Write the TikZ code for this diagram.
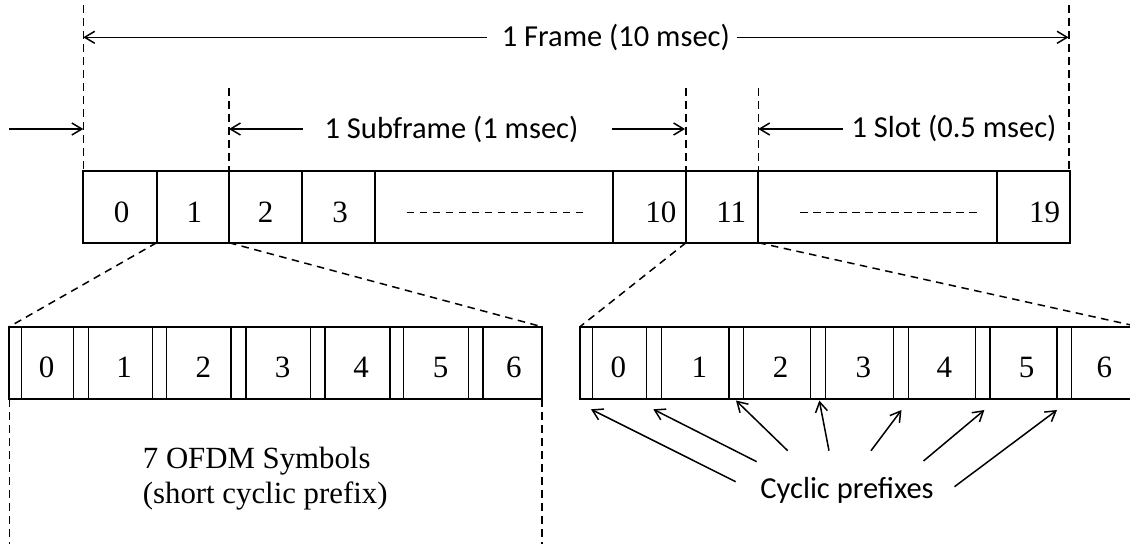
\documentclass[tikz,border=0pt]{standalone}
\usepackage{fontspec}
\setmainfont{Liberation Serif}
\newfontfamily\calfnt{Carlito}
\usetikzlibrary{arrows.meta}
\begin{document}
\begin{tikzpicture}[x=1pt,y=-1pt,
  box/.style={line width=1.8pt},
  cpl/.style={line width=1.4pt},
  dsh/.style={line width=1.5pt, dash pattern=on 7.5pt off 5.5pt},
  arr/.style={line width=1.5pt, -{Straight Barb[length=10pt,width=12pt,line width=1.5pt]}},
  num/.style={font=\fontsize{31}{36}\selectfont, inner sep=0pt, anchor=base},
  lbl/.style={font=\calfnt\fontsize{30.5}{36}\selectfont, inner sep=0pt, anchor=base},
  sym/.style={font=\fontsize{30.8}{36}\selectfont, inner sep=0pt, anchor=base west},
]
\useasboundingbox (0,0) rectangle (1130,544);

% ---- top frame of 20 slots
\foreach \x [count=\i from 0] in {83.3,156.7,229,301.7,375,613.3,686,758.3,997.3,1070}{
  \coordinate (t\i) at (\x,170.7);
  \coordinate (b\i) at (\x,242.7);
}
\draw[box] (t0) rectangle (b9);
\foreach \i in {1,...,8} \draw[box] (t\i) -- (b\i);

\node[num] (s0)  at (121.7,222.3) {0};
\node[num] (s1)  at (194.3,222.3) {1};
\node[num] (s2)  at (265.7,222.3) {2};
\node[num] (s3)  at (340,222.3) {3};
\node[num] (s10) at (660.8,222.3) {10};
\node[num] (s11) at (731.2,222.3) {11};
\node[num] (s19) at (1044.7,222.3) {19};

\coordinate (da1) at (406.7,212.3); \coordinate (da2) at (584,212.3);
\coordinate (db1) at (800,212.3);   \coordinate (db2) at (976.7,212.3);
\draw[dsh] (da1) -- (da2);
\draw[dsh] (db1) -- (db2);

% ---- dashed guides above the frame
\coordinate (g0) at (83.3,5);
\coordinate (g9) at (1069,5);
\coordinate (g9b) at (1069,170.7);
\coordinate (g2) at (229,88);
\coordinate (g6) at (686,88);
\coordinate (g7) at (758.3,88);
\draw[dsh] (g0) -- (t0);
\draw[dsh] (g9) -- (g9b);
\draw[dsh] (g2) -- (t2);
\draw[dsh] (g6) -- (t6);
\draw[dsh] (g7) -- (t7);

% ---- frame dimension
\node[lbl] (frame) at (615.8,46.7) {1 Frame (10 msec)};
\coordinate (fl) at (83.3,37.3);  \coordinate (fla) at (486.7,37.3);
\coordinate (fr) at (1068.5,37.3); \coordinate (fra) at (736.7,37.3);
\draw[arr] (fla) -- (fl);
\draw[arr] (fra) -- (fr);

% ---- second row dimensions
\coordinate (p0) at (9,129);     \coordinate (p1) at (83.3,129);
\draw[arr] (p0) -- (p1);
\node[lbl] (sub) at (451.5,138.3) {1 Subframe (1 msec)};
\coordinate (sa) at (303,129);   \coordinate (sat) at (229,129);
\coordinate (sb) at (611.7,129); \coordinate (sbt) at (685,129);
\draw[arr] (sa) -- (sat);
\draw[arr] (sb) -- (sbt);
\node[lbl] (slot) at (954,137.5) {1 Slot (0.5 msec)};
\coordinate (sc) at (843,129);   \coordinate (sct) at (758.3,129);
\draw[arr] (sc) -- (sct);

% ---- lower left slot (normal CP)
\coordinate (LL) at (9.3,326.7);  \coordinate (LR) at (541.8,326.7);
\coordinate (LLb) at (9.3,399.3); \coordinate (LRb) at (541.8,399.3);
\draw[box] (LL) rectangle (LRb);
\foreach \x in {21.7,73.3,88.3,152.7,166.7,231,246,310.7,325,389.8,403.6,468.4,482.9}
  \draw[cpl] (\x,326.7) -- (\x,399.3);
\foreach \x/\n in {46.7/0,124/1,203.3/2,282.7/3,361/4,440.7/5,513.8/6}
  \node[num] (l\n) at (\x,377.3) {\n};

% ---- lower right slot
\coordinate (RL) at (580,326.7);  \coordinate (RLb) at (580,399);
\coordinate (RR) at (1130,326.7); \coordinate (RRb) at (1130,399);
\draw[box] (RR) -- (RL) -- (RLb) -- (RRb);
\foreach \x in {592.3,646.7,661.7,729,743.3,810.7,825.7,893.3,908.3,975.3,989.8,1057,1071.6}
  \draw[cpl] (\x,326.7) -- (\x,399);
\foreach \x/\n in {618.3/0,699.3/1,780.7/2,863.3/3,944.3/4,1026.5/5,1104.4/6}
  \node[num] (r\n) at (\x,377) {\n};

% ---- zoom lines
\coordinate (RRz) at (1130,324.8);
\draw[dsh] (b1) -- (LL);
\draw[dsh] (b2) -- (LR);
\draw[dsh] (b6) -- (RL);
\draw[dsh] (b7) -- (RRz);

% ---- dashed guides under lower-left slot
\coordinate (LLd) at (9.3,544);  \coordinate (LRd) at (541.8,544);
\draw[dsh] (LLb) -- (LLd);
\draw[dsh] (LRb) -- (LRd);

\node[sym] (ofdm1) at (142.7,468.3) {7 OFDM Symbols};
\node[sym] (ofdm2) at (142.7,503.3) {(short cyclic prefix)};

% ---- cyclic prefix arrows
\node[lbl] (cyc) at (847,498.3) {Cyclic prefixes};
\foreach \a/\b/\c/\d [count=\k] in {735.7/481.7/591/409.3, 756.7/461.7/653.3/409.3,
   787.7/450.7/736/400.5, 829/450.7/819.3/400.5, 871/450.7/901.5/410,
   923.5/461/984.4/410, 954.5/486.7/1057/410}{
  \coordinate (ct\k) at (\a,\b);
  \coordinate (ch\k) at (\c,\d);
  \draw[arr] (ct\k) -- (ch\k);
}
\end{tikzpicture}
\end{document}
